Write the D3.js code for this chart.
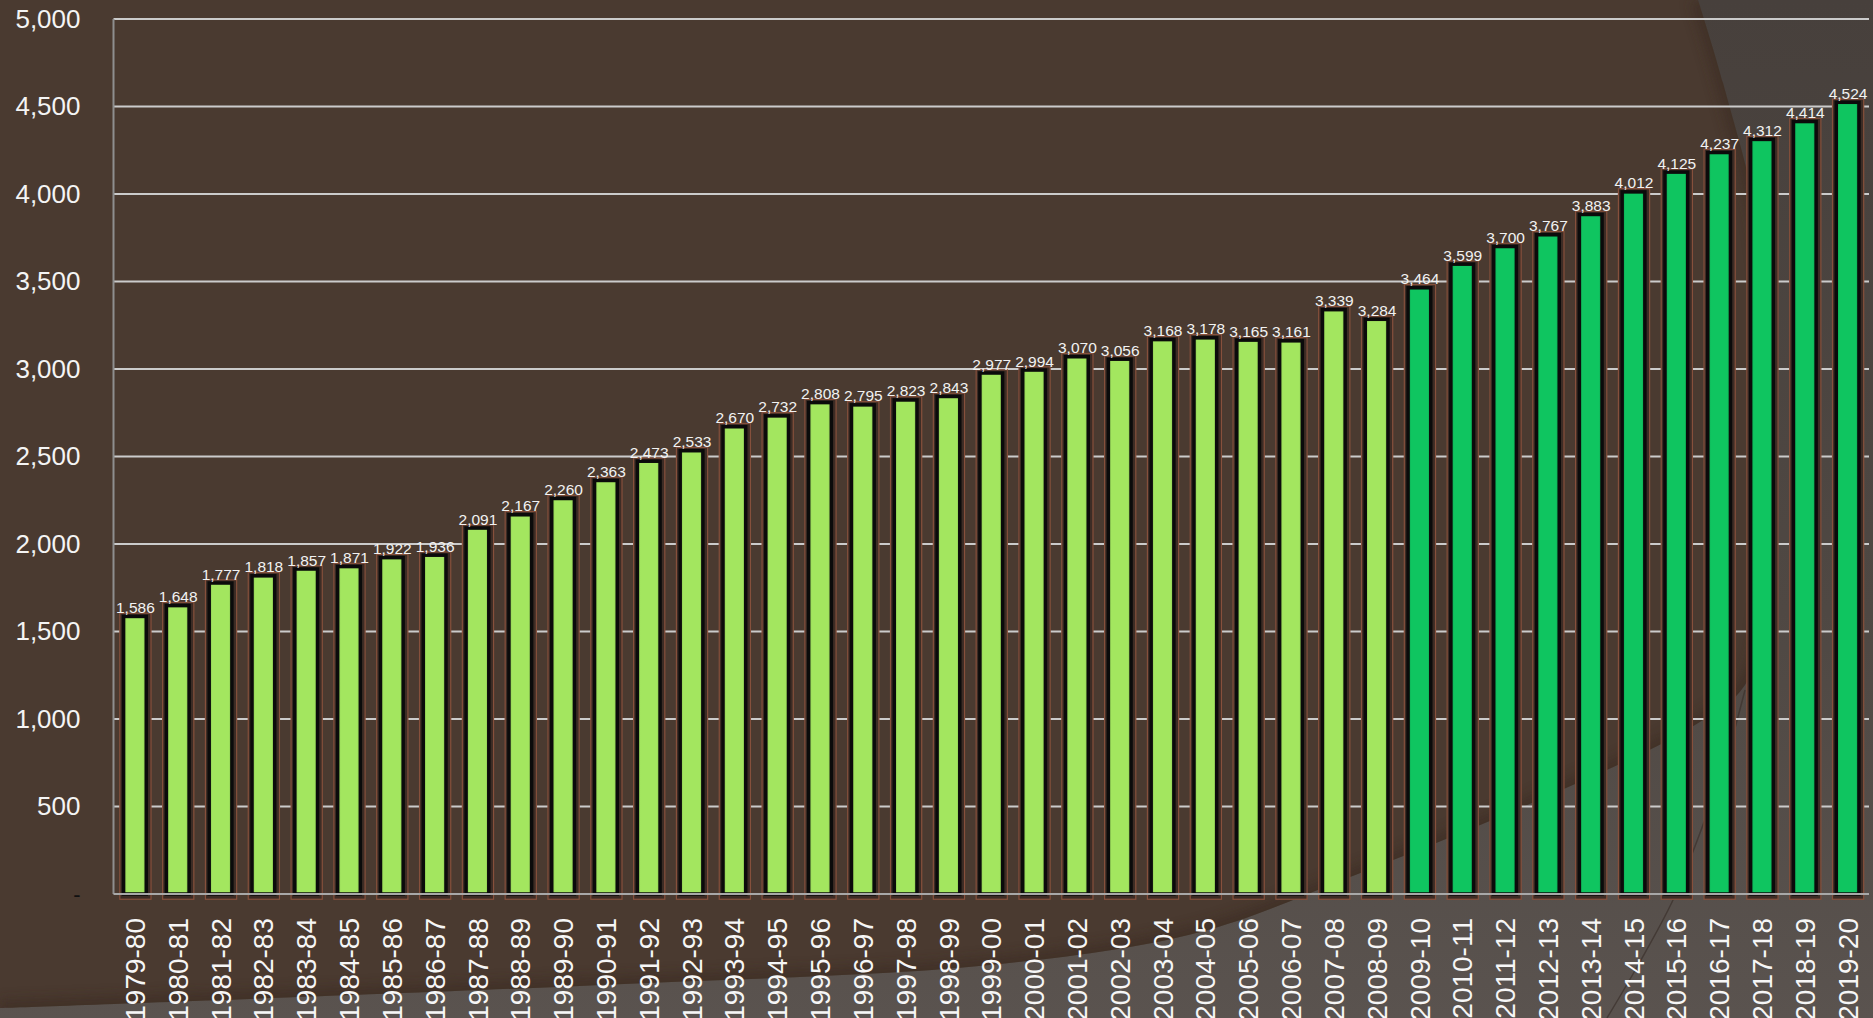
<!DOCTYPE html>
<html>
<head>
<meta charset="utf-8">
<script src="https://cdn.jsdelivr.net/npm/d3@7"></script>
<style>
  html, body { margin: 0; padding: 0; background: #4a3a30; overflow: hidden; }
  svg { display: block; }
  text { font-family: "Liberation Sans", Arial, sans-serif; }
</style>
</head>
<body>
<svg id="chart" width="1873" height="1018"></svg>
<script>
// ---- data ----
const categories = [
  "1979-80","1980-81","1981-82","1982-83","1983-84","1984-85","1985-86","1986-87",
  "1987-88","1988-89","1989-90","1990-91","1991-92","1992-93","1993-94","1994-95",
  "1995-96","1996-97","1997-98","1998-99","1999-00","2000-01","2001-02","2002-03",
  "2003-04","2004-05","2005-06","2006-07","2007-08","2008-09","2009-10","2010-11",
  "2011-12","2012-13","2013-14","2014-15","2015-16","2016-17","2017-18","2018-19","2019-20"
];
// first period (light green) 1979-80 .. 2008-09
const earlyValues = [
  1586,1648,1777,1818,1857,1871,1922,1936,2091,2167,2260,2363,2473,2533,2670,
  2732,2808,2795,2823,2843,2977,2994,3070,3056,3168,3178,3165,3161,3339,3284
];
// second period (dark green) 2009-10 .. 2019-20
const laterValues = [3464,3599,3700,3767,3883,4012,4125,4237,4312,4414,4524];
const yTicks = [0,500,1000,1500,2000,2500,3000,3500,4000,4500,5000];

const values = earlyValues.concat(laterValues);
const data = categories.map((c, i) => ({
  cat: c, value: values[i], period: i < earlyValues.length ? "early" : "later"
}));

// ---- layout ----
const W = 1873, H = 1018;
const mLeft = 113.5, mRight = 1869, mTop = 19, mBottom = 894;
const svg = d3.select("#chart");

// ---- background ----
const defs = svg.append("defs");
const bgGrad = defs.append("linearGradient").attr("id","bgGrad")
  .attr("x1",0).attr("y1",0).attr("x2",0).attr("y2",1);
bgGrad.append("stop").attr("offset","0%").attr("stop-color","#47403c");
bgGrad.append("stop").attr("offset","60%").attr("stop-color","#4f4843");
bgGrad.append("stop").attr("offset","100%").attr("stop-color","#5a534f");
svg.append("rect").attr("width",W).attr("height",H).attr("fill","url(#bgGrad)");

const blur = defs.append("filter").attr("id","soft").attr("x","-10%").attr("y","-10%").attr("width","120%").attr("height","120%");
blur.append("feGaussianBlur").attr("stdDeviation",6);

const boundary = [
  [0,1008],[600,985],[1000,964],[1200,932],[1350,877],[1550,795],[1690,728],
  [1745,685],[1767,600],[1771,450],[1763,250],[1723,83],[1698,0]
];
const curve = d3.line().curve(d3.curveCatmullRom.alpha(0.5));
const brownD = "M0,0 " + curve(boundary).replace(/^M/,"L") + " Z";
const clip = defs.append("clipPath").attr("id","brownClip");
clip.append("path").attr("d", brownD);
svg.append("path").attr("d", brownD).attr("fill","#4a3a30");
svg.append("path").attr("d", curve(boundary)).attr("fill","none")
  .attr("stroke","#3a2a22").attr("stroke-width",16).attr("opacity",0.55)
  .attr("filter","url(#soft)").attr("clip-path","url(#brownClip)");
// thin ring line in lower right
const ring = [[1607,1018],[1637,967],[1673,900],[1700,833],[1728,752],[1745,690]];
svg.append("path").attr("d", curve(ring)).attr("fill","none")
  .attr("stroke","#3f3530").attr("stroke-width",1.5).attr("opacity",0.8);

// ---- scales ----
const x = d3.scaleBand().domain(categories).range([mLeft, mRight]).paddingInner(0.47).paddingOuter(0.235);
const y = d3.scaleLinear().domain([0,5000]).range([mBottom, mTop]);

// gridlines
svg.append("g").selectAll("line").data(yTicks.filter(t => t > 0)).join("line")
  .attr("x1", mLeft).attr("x2", mRight)
  .attr("y1", d => y(d)).attr("y2", d => y(d))
  .attr("stroke","#cbcbcb").attr("stroke-width",2);

// y axis line
svg.append("line").attr("x1",mLeft).attr("x2",mLeft).attr("y1",mTop).attr("y2",mBottom)
  .attr("stroke","#8e8e8e").attr("stroke-width",2);

// y tick labels via axis
const yAxis = svg.append("g").attr("transform",`translate(${mLeft},0)`)
  .call(d3.axisLeft(y).tickValues(yTicks).tickSize(0).tickPadding(33)
    .tickFormat(d => d === 0 ? "-" : d3.format(",")(d)));
yAxis.select(".domain").remove();
yAxis.selectAll("text").attr("font-size", 26).attr("fill","#f4f4f4")
  .attr("font-family","Liberation Sans, Arial, sans-serif");
yAxis.selectAll("text").filter(d => d === 0).attr("fill","#111").attr("font-size",22);

// gradients for bars
function barGrad(id, edge, main) {
  const g = defs.append("linearGradient").attr("id", id).attr("x1",0).attr("x2",1).attr("y1",0).attr("y2",0);
  g.append("stop").attr("offset","0%").attr("stop-color", edge);
  g.append("stop").attr("offset","14%").attr("stop-color", main);
  g.append("stop").attr("offset","86%").attr("stop-color", main);
  g.append("stop").attr("offset","100%").attr("stop-color", edge);
}
barGrad("gEarly", "#7fb84a", "#a3e65f");
barGrad("gLater", "#0c9a4c", "#0fc560");

const bw = x.bandwidth();
const sw = 3.5;

// shadows
svg.append("g").selectAll("rect").data(data).join("rect")
  .attr("x", d => x(d.cat) - sw/2 - 2)
  .attr("y", d => y(d.value) - sw/2 - 1.5)
  .attr("width", bw + sw + 5)
  .attr("height", d => mBottom - y(d.value) + sw + 5)
  .attr("fill","#3c2c25").attr("stroke","#86503c").attr("stroke-width",1.2);

// bars
svg.append("g").selectAll("rect").data(data).join("rect")
  .attr("x", d => x(d.cat))
  .attr("y", d => y(d.value))
  .attr("width", bw)
  .attr("height", d => mBottom - y(d.value))
  .attr("fill", d => d.period === "early" ? "url(#gEarly)" : "url(#gLater)")
  .attr("stroke","#0b0b0b").attr("stroke-width", sw);

// x axis line
svg.append("line").attr("x1",mLeft).attr("x2",mRight).attr("y1",mBottom).attr("y2",mBottom)
  .attr("stroke","#a8a8a8").attr("stroke-width",2);

// value labels
svg.append("g").selectAll("text").data(data).join("text")
  .attr("x", d => x(d.cat) + bw/2 + 0.5)
  .attr("y", d => y(d.value) - 3.5)
  .attr("text-anchor","middle")
  .attr("font-size", 15.5)
  .attr("fill","#f2f2f2")
  .text(d => d3.format(",")(d.value));

// x tick labels (rotated) via axis
const xAxis = svg.append("g").attr("transform",`translate(0,${mBottom})`)
  .call(d3.axisBottom(x).tickSize(0));
xAxis.select(".domain").remove();
xAxis.selectAll("text")
  .attr("font-size", 28).attr("fill","#f6f6f6")
  .attr("font-family","Liberation Sans, Arial, sans-serif")
  .attr("text-anchor","end")
  .attr("transform","rotate(-90)")
  .attr("x", -24).attr("y", 0).attr("dy","0.36em");
</script>
</body>
</html>
